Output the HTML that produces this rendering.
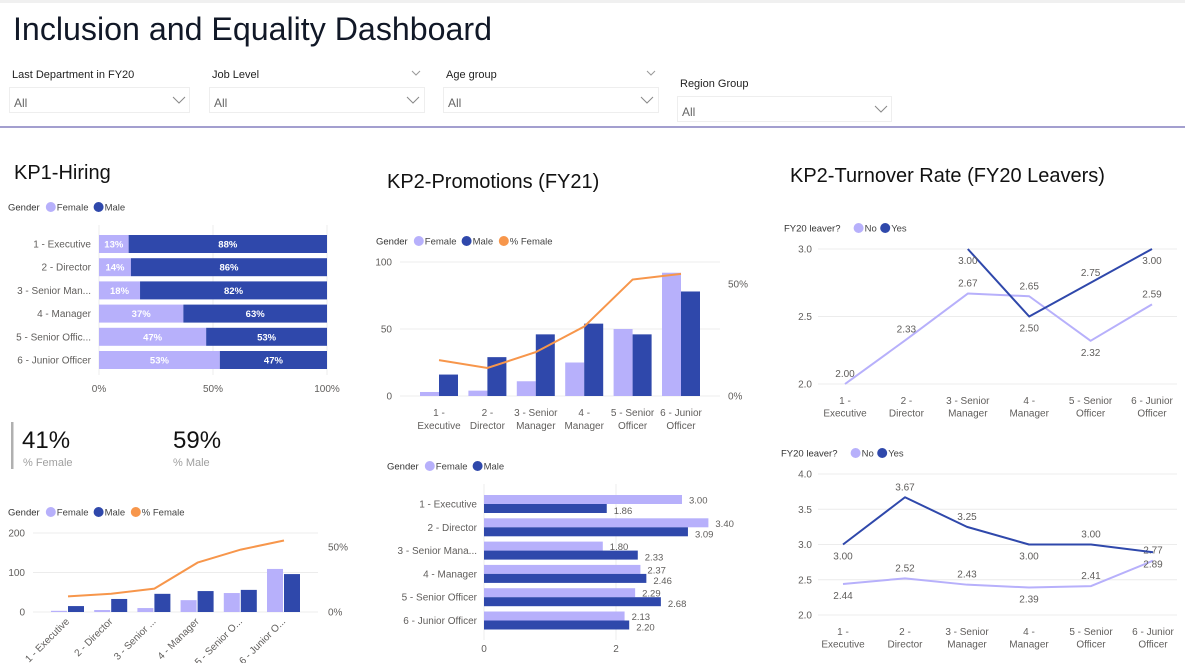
<!DOCTYPE html>
<html><head><meta charset="utf-8"><style>
html,body{margin:0;padding:0;background:#fff;}
body{width:1185px;height:663px;overflow:hidden;position:relative;font-family:"Liberation Sans",sans-serif;}
svg text{font-family:"Liberation Sans",sans-serif;}
</style></head><body>
<svg id="dash" width="1185" height="663" viewBox="0 0 1185 663" xmlns="http://www.w3.org/2000/svg">
<rect x="0" y="0" width="1185" height="3" fill="#f0f0f0"/>
<text x="13" y="40" font-size="32" textLength="479" lengthAdjust="spacingAndGlyphs" fill="#111827">Inclusion and Equality Dashboard</text>
<g>
<text x="12" y="78" font-size="11" fill="#222">Last Department in FY20</text>
<rect x="9.5" y="87.5" width="180" height="25" fill="#fff" stroke="#eee"/>
<text x="14" y="107" font-size="12" fill="#666">All</text>
<polyline points="173,97 179,103 185,97" fill="none" stroke="#888"/>
</g>
<g>
<text x="212" y="78" font-size="11" fill="#222">Job Level</text>
<polyline points="412,71 416,75 420,71" fill="none" stroke="#999"/>
<rect x="209.5" y="87.5" width="215" height="25" fill="#fff" stroke="#eee"/>
<text x="214" y="107" font-size="12" fill="#666">All</text>
<polyline points="407,97 413,103 419,97" fill="none" stroke="#888"/>
</g>
<g>
<text x="446" y="78" font-size="11" fill="#222">Age group</text>
<polyline points="647,71 651,75 655,71" fill="none" stroke="#999"/>
<rect x="443.5" y="87.5" width="215" height="25" fill="#fff" stroke="#eee"/>
<text x="448" y="107" font-size="12" fill="#666">All</text>
<polyline points="641,97 647,103 653,97" fill="none" stroke="#888"/>
</g>
<g>
<text x="680" y="87" font-size="11" fill="#222">Region Group</text>
<rect x="677.5" y="96.5" width="214" height="25" fill="#fff" stroke="#eee"/>
<text x="682" y="116" font-size="12" fill="#666">All</text>
<polyline points="875,106 881,112 887,106" fill="none" stroke="#888"/>
</g>
<rect x="0" y="126" width="1185" height="2" fill="#a39fcf"/>
<text x="14" y="179" font-size="20" fill="#111">KP1-Hiring</text>
<text x="387" y="188" font-size="20" fill="#111">KP2-Promotions (FY21)</text>
<text x="790" y="182" font-size="20" fill="#111">KP2-Turnover Rate (FY20 Leavers)</text>
<rect x="11" y="422" width="2.5" height="47" fill="#b0b0b0"/>
<text x="22" y="448" font-size="24" fill="#111">41%</text>
<text x="23" y="466" font-size="11" fill="#a0a0a0">% Female</text>
<text x="173" y="448" font-size="24" fill="#111">59%</text>
<text x="173" y="466" font-size="11" fill="#a0a0a0">% Male</text>
</svg>
<script>
const FEM='#b7b0fb', MAL='#2f48ab', ORG='#f7964b', TXT='#605e5c', GRID='#ececec';
const svg=document.getElementById('dash');
function mk(tag,attrs,name,parent){
  const el=document.createElementNS('http://www.w3.org/2000/svg',tag);
  for(const k in attrs) el.setAttribute(k,attrs[k]);
  
  
  (parent||svg).appendChild(el);
  return el;
}
function txt(x,y,s,name,opt){
  opt=opt||{};
  const t=mk('text',{x:x,y:y,'font-size':opt.size||10,fill:opt.fill||TXT,'text-anchor':opt.anchor||'start','font-weight':opt.weight||'normal'},name);
  if(opt.transform) t.setAttribute('transform',opt.transform);
  t.textContent=s; return t;
}
function legend(x,y,title,items,prefix){
  txt(x,y+3.5,title,prefix+'-legend-title',{size:9.5,fill:'#333'});
  let cx=x+title.length*5.3+6;
  items.forEach(it=>{
    mk('circle',{cx:cx+5,cy:y,r:5,fill:it[1]},prefix+'-legend-marker');
    txt(cx+11,y+3.5,it[0],prefix+'-legend-entry',{size:9.5,fill:'#444'});
    cx+=11+it[0].length*5.3+5;
  });
}

// ===== KP1 stacked bar =====
const hireCats=['1 - Executive','2 - Director','3 - Senior Man...','4 - Manager','5 - Senior Offic...','6 - Junior Officer'];
const hireFemalePct=[13,14,18,37,47,53];
const hireMalePct=[88,86,82,63,53,47];
const hireTicks=[0,50,100];
(function(){
  const x=v=>99+v*2.28, rowY=i=>244+i*23.2;
  legend(8,207,'Gender',[['Female',FEM],['Male',MAL]],'kp1');
  hireTicks.forEach(t=>{
    mk('line',{x1:x(t),x2:x(t),y1:225,y2:375,stroke:GRID},'kp1-gridline');
    txt(x(t),392,t+'%','kp1-x-tick',{anchor:'middle'});
  });
  hireCats.forEach((c,i)=>{
    const y=rowY(i);
    txt(91,y+3.5,c,'kp1-category-label',{anchor:'end'});
    const f=hireFemalePct[i], m=hireMalePct[i];
    mk('rect',{x:x(0),y:y-9,width:x(f)-x(0),height:18,fill:FEM},'kp1-bar-female');
    const mEnd=Math.min(100,f+m);
    mk('rect',{x:x(f),y:y-9,width:x(mEnd)-x(f),height:18,fill:MAL},'kp1-bar-male');
    txt((x(0)+x(f))/2,y+3.5,f+'%','kp1-female-label',{anchor:'middle',fill:'#fff',weight:'bold',size:9.5});
    txt((x(f)+x(mEnd))/2,y+3.5,m+'%','kp1-male-label',{anchor:'middle',fill:'#fff',weight:'bold',size:9.5});
  });
})();

// ===== KP1 combo chart =====
const hire2Cats=['1 - Executive','2 - Director','3 - Senior ...','4 - Manager','5 - Senior O...','6 - Junior O...'];
const hire2Female=[3,5,10,30,48,109];
const hire2Male=[15,33,46,53,56,96];
const hire2PctFemale=[12,14,18,38,48,55];
const hire2LeftTicks=[0,100,200];
const hire2RightTicks=[0,50];
(function(){
  const y=v=>612-v*0.395, yr=p=>612-p*1.3, cx=i=>68+i*43.2;
  legend(8,512,'Gender',[['Female',FEM],['Male',MAL],['% Female',ORG]],'kp1-combo');
  hire2LeftTicks.forEach(t=>{
    mk('line',{x1:33,x2:318,y1:y(t),y2:y(t),stroke:GRID},'kp1-combo-gridline');
    txt(25,y(t)+3.5,t,'kp1-combo-y-tick',{anchor:'end'});
  });
  hire2RightTicks.forEach(t=>txt(328,yr(t)+3.5,t+'%','kp1-combo-y2-tick'));
  hire2Cats.forEach((c,i)=>{
    mk('rect',{x:cx(i)-17,y:y(hire2Female[i]),width:16,height:612-y(hire2Female[i]),fill:FEM},'kp1-combo-bar-female');
    mk('rect',{x:cx(i),y:y(hire2Male[i]),width:16,height:612-y(hire2Male[i]),fill:MAL},'kp1-combo-bar-male');
    txt(cx(i)+2,622,c,'kp1-combo-x-label',{anchor:'end',transform:'rotate(-45 '+(cx(i)+2)+' 622)'});
  });
  mk('polyline',{points:hire2PctFemale.map((p,i)=>cx(i)+','+yr(p)).join(' '),fill:'none',stroke:ORG,'stroke-width':2},'kp1-combo-line-pct-female');
})();

// ===== KP2 Promotions combo =====
const promoCats=[['1 -','Executive'],['2 -','Director'],['3 - Senior','Manager'],['4 -','Manager'],['5 - Senior','Officer'],['6 - Junior','Officer']];
const promoFemale=[3,4,11,25,50,92];
const promoMale=[16,29,46,54,46,78];
const promoPctFemale=[16,12.5,19.6,31,52,54.5];
const promoLeftTicks=[0,50,100];
const promoRightTicks=[0,50];
(function(){
  const y=v=>396-v*1.34, yr=p=>396-p*2.24, cx=i=>439+i*48.4;
  legend(376,241,'Gender',[['Female',FEM],['Male',MAL],['% Female',ORG]],'kp2p');
  promoLeftTicks.forEach(t=>{
    mk('line',{x1:400,x2:720,y1:y(t),y2:y(t),stroke:GRID},'kp2p-gridline');
    txt(392,y(t)+3.5,t,'kp2p-y-tick',{anchor:'end'});
  });
  promoRightTicks.forEach(t=>txt(728,yr(t)+3.5,t+'%','kp2p-y2-tick'));
  promoCats.forEach((c,i)=>{
    mk('rect',{x:cx(i)-19,y:y(promoFemale[i]),width:19,height:396-y(promoFemale[i]),fill:FEM},'kp2p-bar-female');
    mk('rect',{x:cx(i),y:y(promoMale[i]),width:19,height:396-y(promoMale[i]),fill:MAL},'kp2p-bar-male');
    txt(cx(i),416,c[0],'kp2p-x-label',{anchor:'middle'});
    txt(cx(i),429,c[1],'kp2p-x-label',{anchor:'middle'});
  });
  mk('polyline',{points:promoPctFemale.map((p,i)=>cx(i)+','+yr(p)).join(' '),fill:'none',stroke:ORG,'stroke-width':2},'kp2p-line-pct-female');
})();

// ===== KP2 horizontal clustered bar =====
const hbCats=['1 - Executive','2 - Director','3 - Senior Mana...','4 - Manager','5 - Senior Officer','6 - Junior Officer'];
const hbFemale=[3.00,3.40,1.80,2.37,2.29,2.13];
const hbMale=[1.86,3.09,2.33,2.46,2.68,2.20];
const hbTicks=[0,2];
(function(){
  const x=v=>484+v*66, rowY=i=>504+i*23.3;
  legend(387,466,'Gender',[['Female',FEM],['Male',MAL]],'kp2h');
  hbTicks.forEach(t=>{
    mk('line',{x1:x(t),x2:x(t),y1:484,y2:640,stroke:GRID},'kp2h-gridline');
    txt(x(t),652,t,'kp2h-x-tick',{anchor:'middle'});
  });
  hbCats.forEach((c,i)=>{
    const y=rowY(i);
    txt(477,y+3.5,c,'kp2h-category-label',{anchor:'end'});
    mk('rect',{x:x(0),y:y-9,width:x(hbFemale[i])-x(0),height:9,fill:FEM},'kp2h-bar-female');
    mk('rect',{x:x(0),y:y,width:x(hbMale[i])-x(0),height:9,fill:MAL},'kp2h-bar-male');
    txt(x(hbFemale[i])+7,y-0.5,hbFemale[i].toFixed(2),'kp2h-female-label',{size:9.5});
    txt(x(hbMale[i])+7,y+10,hbMale[i].toFixed(2),'kp2h-male-label',{size:9.5});
  });
})();

// ===== Turnover line charts =====
const toCats=[['1 -','Executive'],['2 -','Director'],['3 - Senior','Manager'],['4 -','Manager'],['5 - Senior','Officer'],['6 - Junior','Officer']];
const to1No=[2.00,2.33,2.67,2.65,2.32,2.59];
const to1Yes=[null,null,3.00,2.50,2.75,3.00];
const to1NoSide=['up','up','up','up','down','up'];
const to1YesSide=['up','up','down','down','up','down'];
const to1Ticks=[2.0,2.5,3.0];
const to2No=[2.44,2.52,2.43,2.39,2.41,2.77];
const to2Yes=[3.00,3.67,3.25,3.00,3.00,2.89];
const to2NoSide=['down','up','up','down','up','up'];
const to2YesSide=['down','up','up','down','up','down'];
const to2Ticks=[2.0,2.5,3.0,3.5,4.0];
function lineChart(p){
  const y=v=>p.base-(v-p.min)*p.scale, cx=i=>p.x0+i*p.step;
  legend(p.lx,p.ly,'FY20 leaver?',[['No',FEM],['Yes',MAL]],p.pre);
  p.ticks.forEach(t=>{
    mk('line',{x1:818,x2:1177,y1:y(t),y2:y(t),stroke:GRID},p.pre+'-gridline');
    txt(812,y(t)+3.5,t.toFixed(1),p.pre+'-y-tick',{anchor:'end'});
  });
  p.cats.forEach((c,i)=>{
    txt(cx(i),p.xl,c[0],p.pre+'-x-label',{anchor:'middle'});
    txt(cx(i),p.xl+12.5,c[1],p.pre+'-x-label',{anchor:'middle'});
  });
  [[p.no,FEM,p.noSide,'no'],[p.yes,MAL,p.yesSide,'yes']].forEach(s=>{
    const pts=[];
    s[0].forEach((v,i)=>{ if(v!==null) pts.push(cx(i)+','+y(v)); });
    mk('polyline',{points:pts.join(' '),fill:'none',stroke:s[1],'stroke-width':2,'stroke-linejoin':'round'},p.pre+'-line-'+s[3]);
    s[0].forEach((v,i)=>{
      if(v===null) return;
      const ly=s[2][i]==='up'?y(v)-7:y(v)+15;
      txt(cx(i),ly,v.toFixed(2),p.pre+'-data-label-'+s[3],{anchor:'middle'});
    });
  });
}
lineChart({pre:'to1',lx:784,ly:228,base:384,min:2,scale:135,x0:845,step:61.4,ticks:to1Ticks,cats:toCats,xl:404,no:to1No,yes:to1Yes,noSide:to1NoSide,yesSide:to1YesSide});
lineChart({pre:'to2',lx:781,ly:453,base:615,min:2,scale:70.5,x0:843,step:62,ticks:to2Ticks,cats:toCats,xl:635,no:to2No,yes:to2Yes,noSide:to2NoSide,yesSide:to2YesSide});
</script>
</body></html>
